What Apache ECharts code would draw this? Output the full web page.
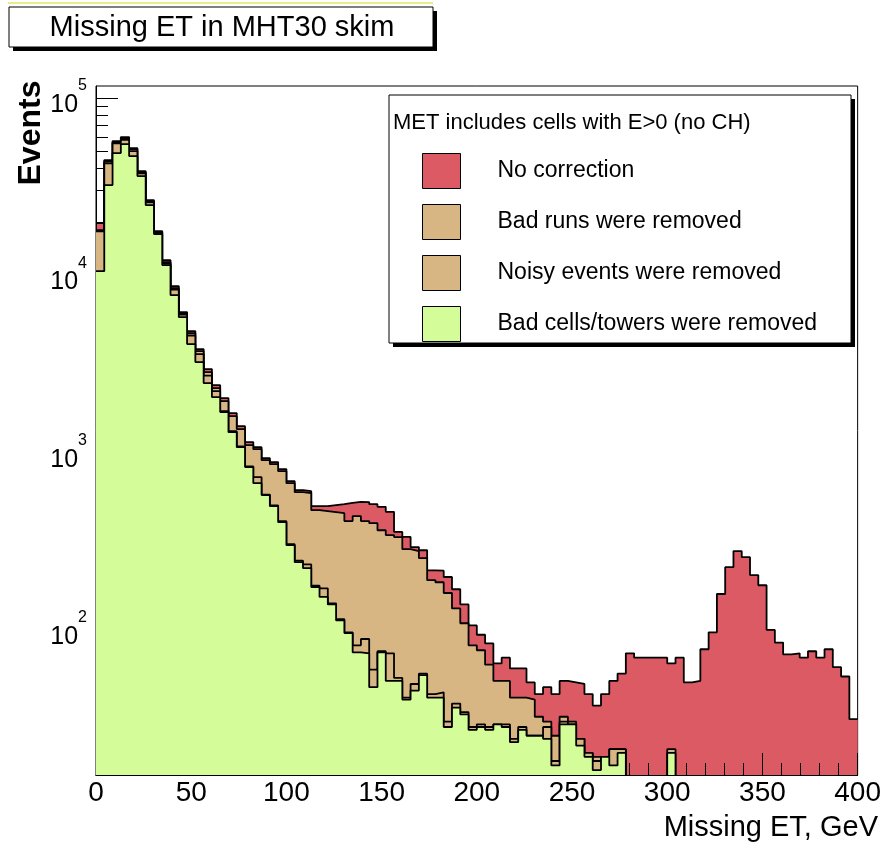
<!DOCTYPE html>
<html>
<head>
<meta charset="utf-8">
<title>Missing ET in MHT30 skim</title>
<script src="https://cdn.jsdelivr.net/npm/echarts@6/dist/echarts.min.js"></script>
<style>
  html, body { margin: 0; padding: 0; background: #fff; }
  #chart { width: 884px; height: 847px; }
</style>
</head>
<body>
<div id="chart"></div>
<script>
// histogram range and bins (92 bins over 0..400 GeV)
const X_MIN = 0;
const X_MAX = 400;

const seriesNames = [
  'No correction',
  'Bad runs were removed',
  'Noisy events were removed',
  'Bad cells/towers were removed'
];
const fillColors = ['#dc5a64', '#d8b683', '#d8b683', '#d4fc98'];

// events per bin (0 = empty bin)
const noCorrection = [
  19670, 44630, 57170, 60210, 52180, 38690, 26530, 17730, 12150, 8667,
  6180, 4828, 3818, 2944, 2390, 2019, 1661, 1402, 1139, 1067,
  925, 878, 802, 686, 610, 602, 495, 495, 502, 508,
  517, 524, 522, 508, 491, 460, 354, 332, 291, 279,
  215, 214, 197, 168, 138, 105, 93, 83, 64, 69,
  60, 60, 50, 43, 47, 43, 51, 50, 49, 43,
  37, 43, 51, 56, 73, 69, 69, 69, 69, 64,
  69, 50, 51, 77, 96, 158, 224, 276, 255, 202,
  177, 99, 84, 72, 73, 69, 75, 69, 77, 61,
  54, 31
];
const badRunsRemoved = [
  17960, 44060, 56420, 59430, 51510, 38180, 26190, 17500, 11840, 8445,
  6100, 4703, 3720, 2831, 2299, 1942, 1597, 1349, 1095, 1039,
  901, 855, 781, 668, 594, 587, 470, 464, 458, 452,
  408, 435, 408, 397, 362, 340, 331, 283, 276, 252,
  189, 184, 160, 131, 108, 81, 76, 63, 51, 51,
  41, 41, 40, 32, 30, 25, 32, 30, 24, 20,
  19, 19, 21, 21, 0, 0, 0, 0, 0, 0,
  0, 0, 0, 0, 0, 0, 0, 0, 0, 0,
  0, 0, 0, 0, 0, 0, 0, 0, 0, 0,
  0, 0
];
const noisyRemoved = [
  17660, 42830, 55500, 58150, 50200, 37620, 25750, 17250, 11600, 8280,
  5977, 4559, 3579, 2703, 2210, 1705, 1313, 1076, 831, 723,
  576, 500, 407, 302, 244, 232, 176, 170, 140, 114,
  96, 81, 88, 59, 75, 73, 53, 41, 49, 56,
  43, 44, 30, 38, 34, 28, 29, 28, 29, 29,
  24, 28, 25, 25, 28, 18, 30, 29, 24, 20,
  18, 19, 21, 21, 0, 0, 0, 0, 0, 21,
  0, 0, 0, 0, 0, 0, 0, 0, 0, 0,
  0, 0, 0, 0, 0, 0, 0, 0, 0, 0,
  0, 0
];
const badCellsRemoved = [
  10530, 32250, 48910, 54960, 47030, 36250, 24860, 17040, 11390, 7709,
  5790, 4076, 3225, 2454, 2045, 1683, 1297, 1067, 823, 668,
  572, 495, 402, 298, 239, 221, 173, 152, 138, 112,
  95, 74, 73, 47, 74, 51, 51, 40, 45, 55,
  41, 41, 28, 36, 33, 27, 28, 27, 29, 28,
  23, 27, 25, 25, 24, 17, 29, 29, 22, 19,
  16, 19, 17, 20, 0, 0, 0, 0, 0, 20,
  0, 0, 0, 0, 0, 0, 0, 0, 0, 0,
  0, 0, 0, 0, 0, 0, 0, 0, 0, 0,
  0, 0
];

// axis ticks
const yMajorTicks = [100, 1000, 10000, 100000];
const yMinorTicks = [
  20, 30, 40, 50, 60, 70, 80, 90,
  200, 300, 400, 500, 600, 700, 800, 900,
  2000, 3000, 4000, 5000, 6000, 7000, 8000, 9000,
  20000, 30000, 40000, 50000, 60000, 70000, 80000, 90000
];
const Y_MIN = 15;
const Y_MAX = 117000;

const FONT = "'Liberation Sans', Arial, Helvetica, sans-serif";
const BIN_WIDTH = (X_MAX - X_MIN) / noCorrection.length;

// step points: left edge of every bin, plus the right edge of the last one
// empty bins go below the axis minimum and get clipped
function stepData(values) {
  const pts = values.map((v, i) => [X_MIN + i * BIN_WIDTH, v > 0 ? v : 1]);
  const last = values[values.length - 1];
  pts.push([X_MAX, last > 0 ? last : 1]);
  return pts;
}

const allValues = [noCorrection, badRunsRemoved, noisyRemoved, badCellsRemoved];
const zOrder = [2, 4, 5, 6];

const series = allValues.map((vals, k) => ({
  name: seriesNames[k],
  type: 'line',
  step: 'end',
  data: stepData(vals),
  symbol: 'none',
  clip: true,
  silent: true,
  z: zOrder[k],
  itemStyle: { color: fillColors[k] },
  lineStyle: { color: '#000', width: 1.8 },
  areaStyle: { color: fillColors[k], opacity: 1, origin: 'start' }
}));

const chart = echarts.init(document.getElementById('chart'));

const option = {
  animation: false,
  backgroundColor: '#fff',
  grid: {
    left: 96, top: 86, width: 765, height: 689,
    show: true, borderColor: '#000', borderWidth: 1,
    backgroundColor: 'transparent'
  },
  xAxis: [
    {
      type: 'value', min: X_MIN, max: X_MAX, interval: 50, z: 3,
      axisLine: { show: true, lineStyle: { color: '#000', width: 1 } },
      axisTick: { show: true, inside: true, length: 22, lineStyle: { color: '#000' } },
      minorTick: { show: true, splitNumber: 5, length: 12, lineStyle: { color: '#000' } },
      axisLabel: { fontSize: 28, color: '#000', fontFamily: FONT, margin: 4 },
      splitLine: { show: false },
      minorSplitLine: { show: false }
    },
    {
      type: 'value', min: X_MIN, max: X_MAX, position: 'bottom', z: 10,
      axisLine: { show: true, onZero: false, lineStyle: { color: '#000', width: 1 } },
      axisTick: { show: false }, axisLabel: { show: false }, splitLine: { show: false }
    }
  ],
  yAxis: [
    {
      type: 'log', logBase: 10, min: Y_MIN, max: Y_MAX, z: 3,
      axisLine: { show: true, lineStyle: { color: '#000', width: 1 } },
      axisTick: { show: true, inside: true, length: 22, customValues: yMajorTicks, lineStyle: { color: '#000' } },
      axisLabel: {
        customValues: yMajorTicks,
        margin: 9,
        formatter: v => '{c| }{a|10}{b|' + Math.round(Math.log10(v)) + '}',
        rich: {
          c: { fontSize: 1, lineHeight: 40 },
          a: { fontSize: 25, fontFamily: FONT, color: '#000', lineHeight: 28, verticalAlign: 'bottom' },
          b: { fontSize: 16, fontFamily: FONT, color: '#000', lineHeight: 16, verticalAlign: 'top' }
        }
      },
      splitLine: { show: false }
    },
    {
      type: 'log', logBase: 10, min: Y_MIN, max: Y_MAX, position: 'left', offset: 0, z: 3,
      axisLine: { show: false },
      axisTick: { show: true, inside: true, length: 12, customValues: yMinorTicks, lineStyle: { color: '#000' } },
      axisLabel: { show: false },
      splitLine: { show: false }
    }
  ],
  legend: {
    orient: 'vertical', left: 422, top: 153, z: 20, padding: 0,
    itemWidth: 38, itemHeight: 35, itemGap: 15,
    icon: 'rect', selectedMode: false,
    itemStyle: { borderColor: '#000', borderWidth: 1 },
    textStyle: { fontSize: 23, color: '#000', fontFamily: FONT, padding: [0, 0, 0, 32] },
    data: seriesNames.map((n, k) => ({ name: n, itemStyle: { color: fillColors[k] } }))
  },
  graphic: [
    { type: 'line', z: 15, shape: { x1: 8, y1: 3, x2: 433, y2: 3 }, style: { stroke: '#eeea8c', lineWidth: 2 } },
    // title pave
    { type: 'rect', z: 15, shape: { x: 13, y: 11, width: 424, height: 40 }, style: { fill: '#000' } },
    { type: 'rect', z: 16, shape: { x: 9, y: 7, width: 424, height: 40 }, style: { fill: '#fff', stroke: '#000', lineWidth: 1 } },
    { type: 'text', z: 17, x: 222, y: 28,
      style: { text: 'Missing ET in MHT30 skim', fontSize: 29, fontFamily: FONT, fill: '#000', textAlign: 'center', textVerticalAlign: 'middle' } },
    // legend pave
    { type: 'rect', z: 15, shape: { x: 393, y: 99, width: 462, height: 248 }, style: { fill: '#000' } },
    { type: 'rect', z: 16, shape: { x: 389, y: 95, width: 462, height: 248 }, style: { fill: '#fff', stroke: '#000', lineWidth: 1 } },
    { type: 'text', z: 17, x: 393, y: 123,
      style: { text: 'MET includes cells with E>0 (no CH)', fontSize: 22, fontFamily: FONT, fill: '#000', textAlign: 'left', textVerticalAlign: 'middle' } },
    // axis titles
    { type: 'text', z: 17, x: 31, y: 133, rotation: Math.PI / 2,
      style: { text: 'Events', fontSize: 32, fontWeight: 'bold', fontFamily: FONT, fill: '#000', textAlign: 'center', textVerticalAlign: 'middle' } },
    { type: 'text', z: 17, x: 878, y: 828,
      style: { text: 'Missing ET, GeV', fontSize: 29, fontFamily: FONT, fill: '#000', textAlign: 'right', textVerticalAlign: 'middle' } }
  ],
  series: series
};

chart.setOption(option);
</script>
</body>
</html>
